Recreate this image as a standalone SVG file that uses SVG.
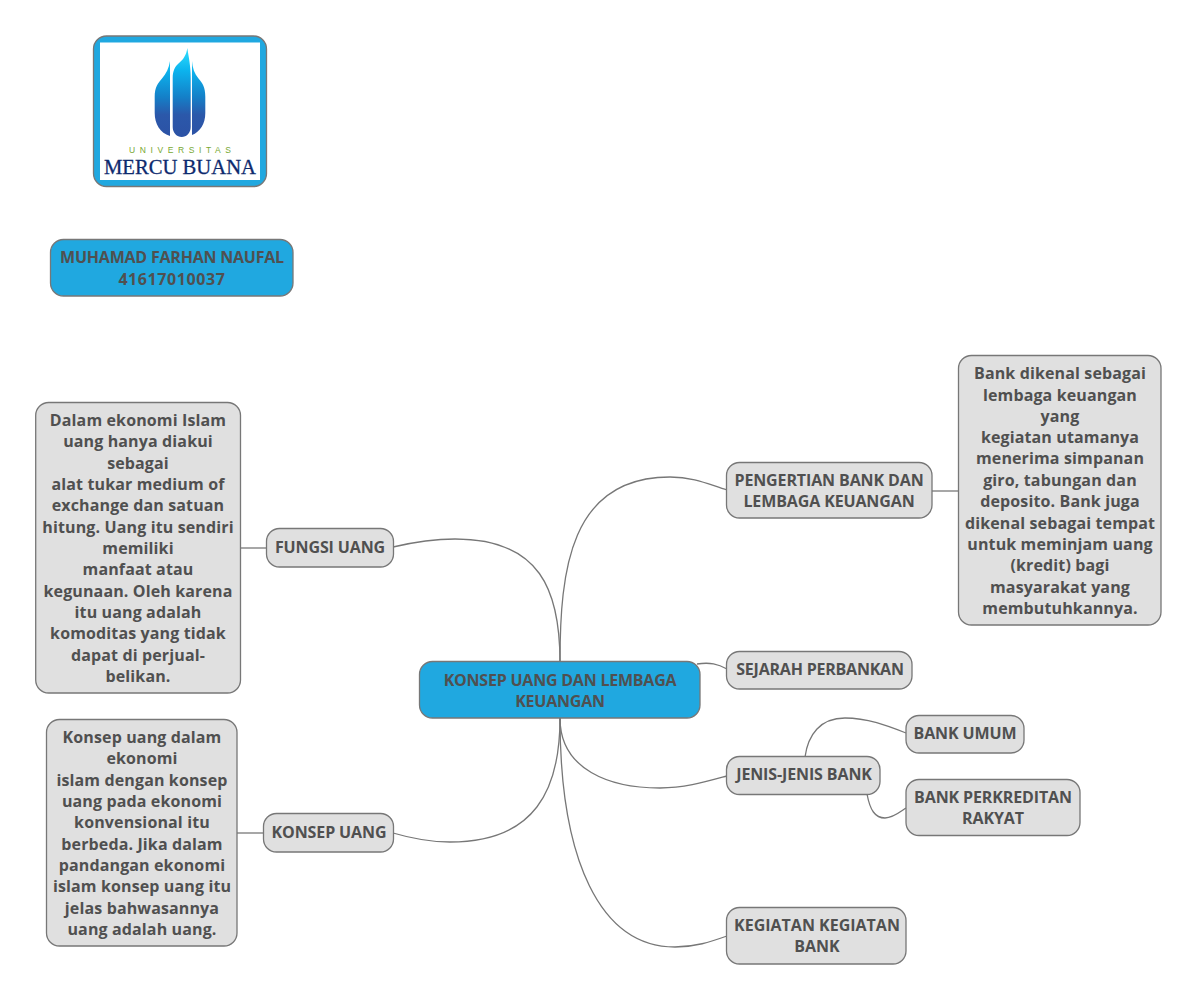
<svg xmlns="http://www.w3.org/2000/svg" width="1198" height="1001" viewBox="0 0 1198 1001">
<style>
.g{fill:#e0e0e0;stroke:#777;stroke-width:1.3}
.b{fill:#20a8e0;stroke:#777;stroke-width:1.3}
text{font-family:"Open Sans","Noto Sans",sans-serif;font-weight:700;font-size:16px;fill:#505050;text-anchor:middle}
.n text{letter-spacing:.13px}
.c text{letter-spacing:-.12px}
.t text{letter-spacing:-.22px}
#n-name .d{letter-spacing:.6px}
#connectors path{fill:none;stroke:#777;stroke-width:1.3}
</style>
<defs><linearGradient id="lg" gradientUnits="userSpaceOnUse" x1="0" y1="48" x2="0" y2="137"><stop offset="0" stop-color="#30e0ff"/><stop offset=".25" stop-color="#0cb4ee"/><stop offset=".55" stop-color="#1480c8"/><stop offset=".75" stop-color="#2b58aa"/><stop offset="1" stop-color="#2c52a5"/></linearGradient></defs>
<rect width="1198" height="1001" fill="#fff"/>
<g id="connectors">
<path d="M560 662C560 570 570 477 670 477C695 477 710 485 727 490"/>
<path d="M560 662C560 590 540 539 455 539C430 539 410 543 393 547"/>
<path d="M697 664C710 662 718 664 727 669"/>
<path d="M560 718C560 770 610 788 660 788C685 788 705 782 727 776"/>
<path d="M560 718C560 790 535 842 450 842C430 842 410 838 393 833"/>
<path d="M560 718C560 860 600 947 675 947C695 947 710 942 727 936"/>
<path d="M805 757C808 735 820 718 845 718C868 718 888 726 906 733"/>
<path d="M867 794C870 810 875 818 885 818C893 818 900 812 906 808"/>
<path d="M932 491H959"/>
<path d="M240 548H266"/>
<path d="M237 833H264"/>
</g>
<g id="logo">
<rect class="b" x="93.500" y="36" width="173" height="150.500" rx="13"/>
<rect x="100" y="42.500" width="160" height="137.500" fill="#fff"/>
<path d="M170 61C169 68 166 74 162 78.500C158 83 154.700 87 154.700 97L154.700 113C154.700 124 160 133 170 136Z" fill="url(#lg)"/>
<path d="M187.300 48C186.500 55 183 60 178.500 63.500C175 66.500 172.700 71 172.700 78L172.700 127C172.700 133 177 137 181.700 137C186.500 137 190.700 133 190.700 127L190.700 78C190.700 66 188.500 56 187.300 48Z" fill="url(#lg)"/>
<path d="M192 61C192.500 68 194.500 74 198.500 78.500C202.500 83 205.300 87 205.300 97L205.300 113C205.300 124 200 132 192 135Z" fill="url(#lg)"/>
<text x="180" y="152.700" style="font-family:'Liberation Sans',sans-serif;font-weight:400;font-size:8.500px;fill:#78a832" textLength="102">UNIVERSITAS</text>
<text x="180" y="173.500" style="font-family:'Liberation Serif',serif;font-weight:400;font-size:20.500px;fill:#0d2a6e;stroke:#0d2a6e;stroke-width:.3" textLength="152" lengthAdjust="spacingAndGlyphs">MERCU BUANA</text>
</g>
<g id="n-name" class="t"><rect class="b" x="50.500" y="239.500" width="242.500" height="56.500" rx="13"/><text x="172" y="263">MUHAMAD FARHAN NAUFAL</text><text class="d" x="172" y="285">41617010037</text></g>
<g id="n-root" class="t"><rect class="b" x="419.500" y="661.500" width="280.500" height="56.500" rx="13"/><text x="560" y="686">KONSEP UANG DAN LEMBAGA</text><text x="560" y="707">KEUANGAN</text></g>
<g id="n-pengertian" class="c"><rect class="g" x="726.500" y="462.500" width="205.500" height="55.500" rx="13"/><text x="829" y="486">PENGERTIAN BANK DAN</text><text x="829" y="507">LEMBAGA KEUANGAN</text></g>
<g id="n-pengertian-note" class="n"><rect class="g" x="958.500" y="355.500" width="202.500" height="269.500" rx="13"/>
<text x="1060" y="379">Bank dikenal sebagai</text><text x="1060" y="401">lembaga keuangan</text><text x="1060" y="422">yang</text><text x="1060" y="443">kegiatan utamanya</text><text x="1060" y="464">menerima simpanan</text><text x="1060" y="486">giro, tabungan dan</text><text x="1060" y="507">deposito. Bank juga</text><text x="1060" y="529">dikenal sebagai tempat</text><text x="1060" y="550">untuk meminjam uang</text><text x="1060" y="571">(kredit) bagi</text><text x="1060" y="593">masyarakat yang</text><text x="1060" y="614">membutuhkannya.</text></g>
<g id="n-sejarah" class="t"><rect class="g" x="726.500" y="651.500" width="185.500" height="37.500" rx="13"/><text x="820" y="675">SEJARAH PERBANKAN</text></g>
<g id="n-jenis" class="c"><rect class="g" x="726.500" y="756.500" width="153.500" height="38" rx="13"/><text x="804" y="780">JENIS-JENIS BANK</text></g>
<g id="n-umum" class="c"><rect class="g" x="906" y="715.500" width="118" height="37.500" rx="13"/><text x="965" y="739">BANK UMUM</text></g>
<g id="n-bpr" class="c"><rect class="g" x="906" y="779.500" width="174" height="56" rx="13"/><text x="993" y="803">BANK PERKREDITAN</text><text x="993" y="824">RAKYAT</text></g>
<g id="n-kegiatan"><rect class="g" x="726.500" y="907.500" width="179.500" height="56.500" rx="13"/><text x="817" y="931">KEGIATAN KEGIATAN</text><text x="817" y="952">BANK</text></g>
<g id="n-fungsi" class="c"><rect class="g" x="266.500" y="528.500" width="127" height="38.500" rx="13"/><text x="330" y="553">FUNGSI UANG</text></g>
<g id="n-fungsi-note" class="n"><rect class="g" x="35.700" y="402.500" width="204.800" height="290.500" rx="13"/>
<text x="138" y="426">Dalam ekonomi Islam</text><text x="138" y="447">uang hanya diakui</text><text x="138" y="469">sebagai</text><text x="138" y="490">alat tukar medium of</text><text x="138" y="511">exchange dan satuan</text><text x="138" y="533">hitung. Uang itu sendiri</text><text x="138" y="554">memiliki</text><text x="138" y="575">manfaat atau</text><text x="138" y="597">kegunaan. Oleh karena</text><text x="138" y="618">itu uang adalah</text><text x="138" y="639">komoditas yang tidak</text><text x="138" y="661">dapat di perjual-</text><text x="138" y="682">belikan.</text></g>
<g id="n-konsep" class="c"><rect class="g" x="263.500" y="813.500" width="130" height="38.500" rx="13"/><text x="329" y="838">KONSEP UANG</text></g>
<g id="n-konsep-note" class="n"><rect class="g" x="46.500" y="719.500" width="190.500" height="226.500" rx="13"/>
<text x="142" y="743">Konsep uang dalam</text><text x="142" y="764">ekonomi</text><text x="142" y="786">islam dengan konsep</text><text x="142" y="807">uang pada ekonomi</text><text x="142" y="828">konvensional itu</text><text x="142" y="850">berbeda. Jika dalam</text><text x="142" y="871">pandangan ekonomi</text><text x="142" y="892">islam konsep uang itu</text><text x="142" y="914">jelas bahwasannya</text><text x="142" y="935">uang adalah uang.</text></g>
</svg>
